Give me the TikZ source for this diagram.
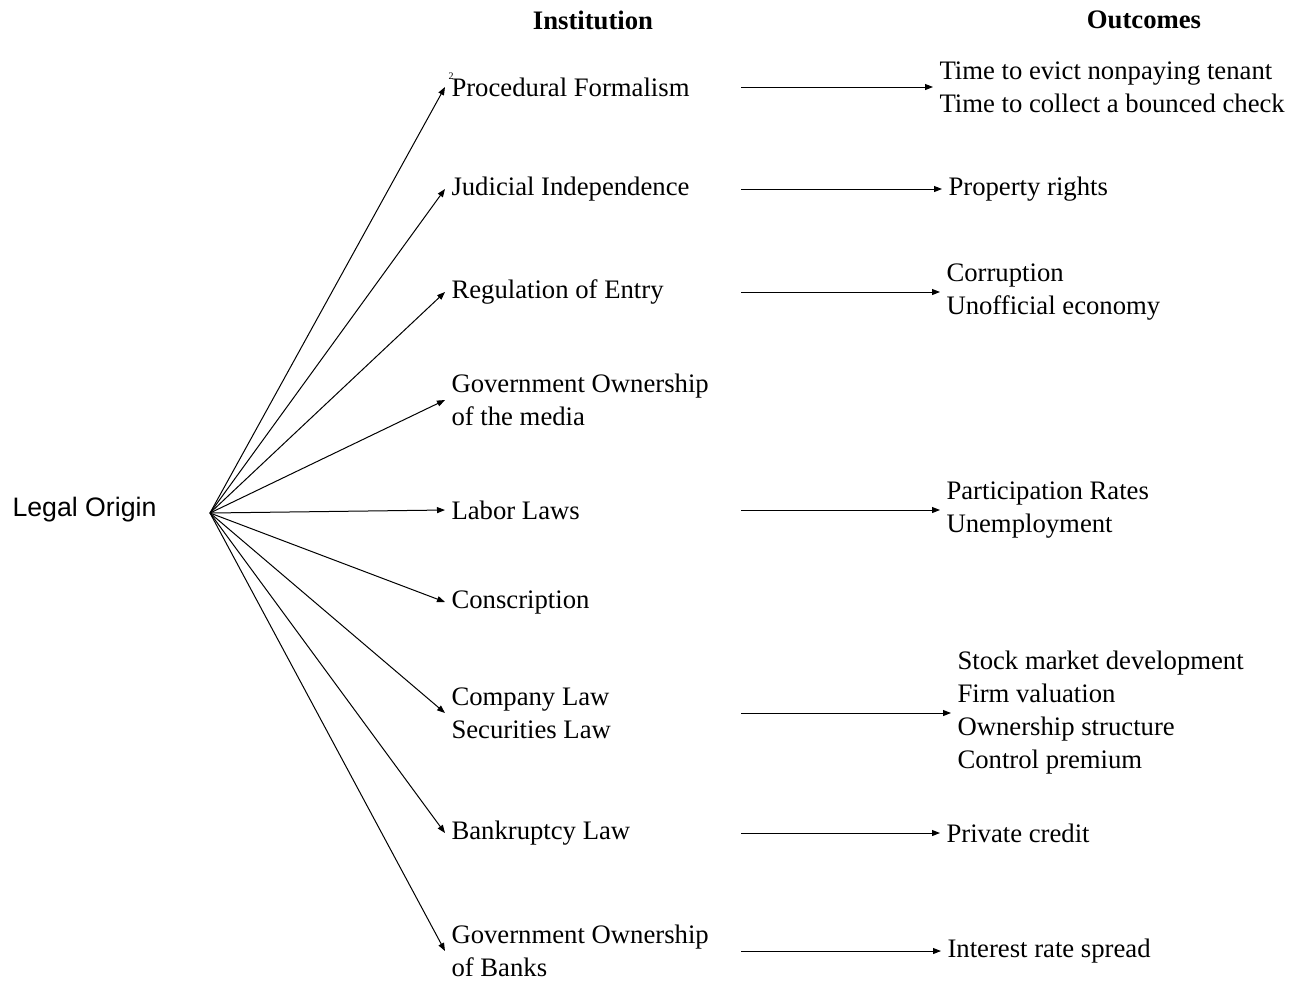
\documentclass[tikz,border=0pt]{standalone}
\usepackage{fontspec}
\setmainfont{Liberation Serif}
\newfontfamily\arialfont{Liberation Sans}
\usetikzlibrary{positioning,arrows.meta}

\begin{document}
\begin{tikzpicture}[x=0.5pt, y=-0.5pt, node distance=99.5pt, line width=0.5pt,
    font=\fontsize{13.35}{16.5}\selectfont,
    >={Triangle[length=4pt,width=3pt]},
    inst/.style={anchor=west, inner sep=3pt, text width=141.5pt, align=flush left},
    outc/.style={inner sep=3pt, align=flush left}]
    \useasboundingbox (0,0) rectangle (1299,982);
    \node[font=\fontsize{13.35}{16.5}\selectfont\bfseries] (hinst) at (593,20) {Institution};%
    \node[font=\fontsize{13.35}{16.5}\selectfont\bfseries] (hout) at (1144,20) {Outcomes};%
    \node[anchor=west, inner sep=0pt, font=\arialfont\fontsize{13.35}{16.5}\selectfont] (legal) at (12,510) {Legal Origin};%
    \coordinate (hub) at (210,513);%
    \node[inst] (proc) at (445,87) {Procedural Formalism};%
    \node[font=\fontsize{5}{6}\selectfont, inner sep=0pt] (mark) at (451,76) {2};%
    \node[inst] (jud) at (445,189) {Judicial Independence};%
    \node[inst] (reg) at (445,292) {Regulation of Entry};%
    \node[inst] (media) at (445,400) {Government Ownership\\of the media};%
    \node[inst] (labor) at (445,510) {Labor Laws};%
    \node[inst] (consc) at (445,602) {Conscription};%
    \node[inst] (comp) at (445,713) {Company Law\\Securities Law};%
    \node[inst] (bank) at (445,833) {Bankruptcy Law};%
    \node[inst] (banks) at (445,951) {Government Ownership\\of Banks};%
    \node[outc] (evict) [right=96pt of proc] {Time to evict nonpaying tenant\\Time to collect a bounced check};%
    \node[outc] (prop) [right=100.5pt of jud] {Property rights};%
    \node[outc] (corr) [right=of reg] {Corruption\\Unofficial economy};%
    \node[outc] (part) [right=of labor] {Participation Rates\\Unemployment};%
    \node[outc] (stock) [right=105pt of comp] {Stock market development\\Firm valuation\\Ownership structure\\Control premium};%
    \node[outc] (cred) [right=of bank] {Private credit};%
    \node[outc] (spread) [right=100pt of banks] {Interest rate spread};%
    \foreach \inst in {proc,jud,reg,media,labor,consc,comp,bank,banks}
      \draw[->] (hub) -- (\inst.west);
    \foreach \inst/\out in {proc/evict,jud/prop,reg/corr,labor/part,comp/stock,bank/cred,banks/spread}
      \draw[->] (\inst.east) -- (\out.west);
  \end{tikzpicture}
\end{document}
